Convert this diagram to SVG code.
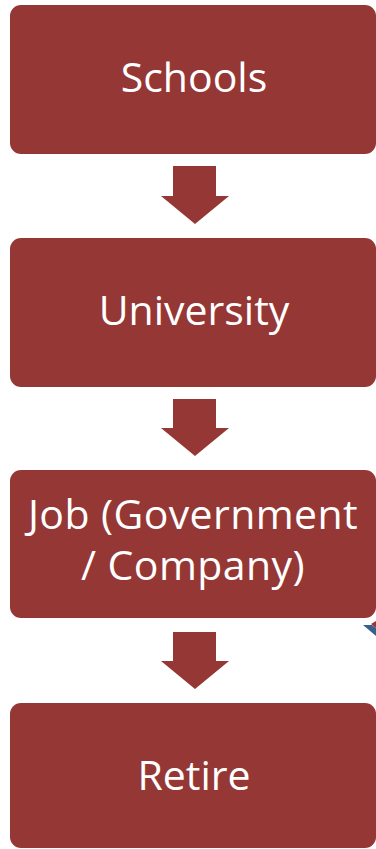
<svg xmlns="http://www.w3.org/2000/svg" width="376" height="849" viewBox="0 0 376 849">
<style>
.box{fill:#953735}
.arr{fill:#953735}
.t{font-family:"Open Sans","Noto Sans",sans-serif;font-size:41px;fill:#ffffff;text-anchor:middle}
</style>
<rect x="0" y="0" width="376" height="849" fill="#ffffff"/>
<g id="connectors">
<polygon class="arr" points="173,166 216,166 216,196 229,196 195,224 161,196 173,196"/>
<polygon class="arr" points="173,399 216,399 216,428 229,428 195,456 161,428 173,428"/>
<polygon class="arr" points="173,632 216,632 216,661 229,661 195,689 161,661 173,661"/>
</g>
<g id="partial-shape">
<polygon fill="#3a5f8f" points="363,625 372,625 376,628 376,636"/>
<polygon fill="#953735" points="371,624 376,621 376,628"/>
</g>
<g id="node-schools">
<rect class="box" x="10" y="5" width="366" height="149" rx="11"/>
<text class="t" x="194" y="92">Schools</text>
</g>
<g id="node-university">
<rect class="box" x="10" y="238" width="366" height="149" rx="11"/>
<text class="t" x="194" y="325">University</text>
</g>
<g id="node-job">
<rect class="box" x="10" y="470" width="366" height="148" rx="11"/>
<text class="t" x="193" y="529" letter-spacing="0.4">Job (Government</text>
<text class="t" x="193" y="580" letter-spacing="0.4">/ Company)</text>
</g>
<g id="node-retire">
<rect class="box" x="10" y="703" width="366" height="145" rx="11"/>
<text class="t" x="194" y="790">Retire</text>
</g>
</svg>
